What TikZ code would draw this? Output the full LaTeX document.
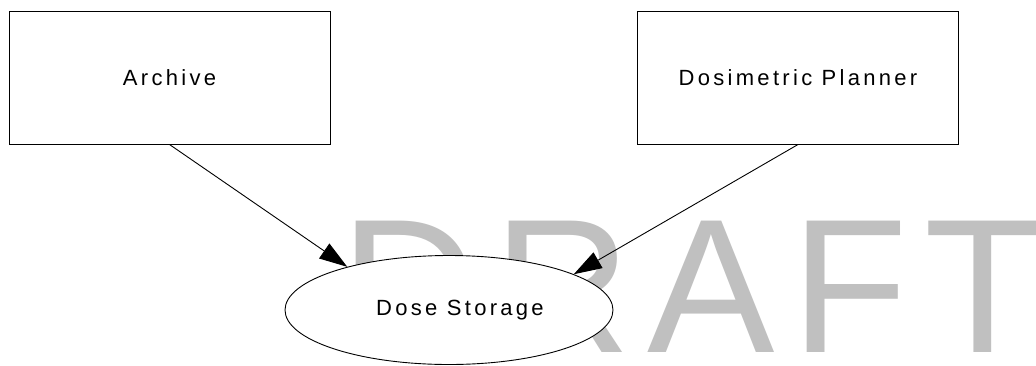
\documentclass[tikz,border=0pt]{standalone}
\usepackage{fontspec}
\usetikzlibrary{shapes.geometric,arrows.meta}
\newfontfamily\lblfont[LetterSpace=15]{Liberation Sans}
\newfontfamily\wmfont[LetterSpace=8.4]{Liberation Sans}
\definecolor{wmgray}{RGB}{192,192,192}
\tikzset{
  lbl/.style={font=\lblfont\fontsize{22}{26}\selectfont, inner sep=0pt},
  block/.style={draw=black, line width=1pt, fill=white, minimum width=321pt,
                minimum height=132.5pt, inner sep=0pt},
  store/.style={ellipse, draw=black, line width=0.9pt, fill=white,
                minimum width=328pt, minimum height=109pt, inner sep=0pt},
  flow/.style={draw=black, line width=0.9pt, -{Triangle[length=28pt,width=18pt]}},
  watermark/.style={font=\wmfont\fontsize{191}{191}\selectfont, text=wmgray,
                    inner sep=0pt, anchor=base west}
}
\begin{document}
\begin{tikzpicture}[x=1pt,y=-1pt]
  \useasboundingbox[fill=white] (0,0) rectangle (1036,365);
  % watermark behind everything
  \node[watermark] (wm) at (340,352) {DRAFT};
  % components
  \node[block] (arch) at (169.5,77.75) {};
  \node[lbl] (archl) at (arch.center) {Archive};
  \node[block] (plan) at (798,77.75) {};
  \node[lbl] (planl) at (plan.center) {Dosimetric Planner};
  \node[store] (ds) at (449,310) {};
  \node[lbl] (dsl) at ([xshift=11pt]ds.center) {Dose Storage};
  % data flows
  \draw[flow] (arch.south) -- (ds.157.4);
  \draw[flow] (plan.south) -- (ds.16);
\end{tikzpicture}
\end{document}
